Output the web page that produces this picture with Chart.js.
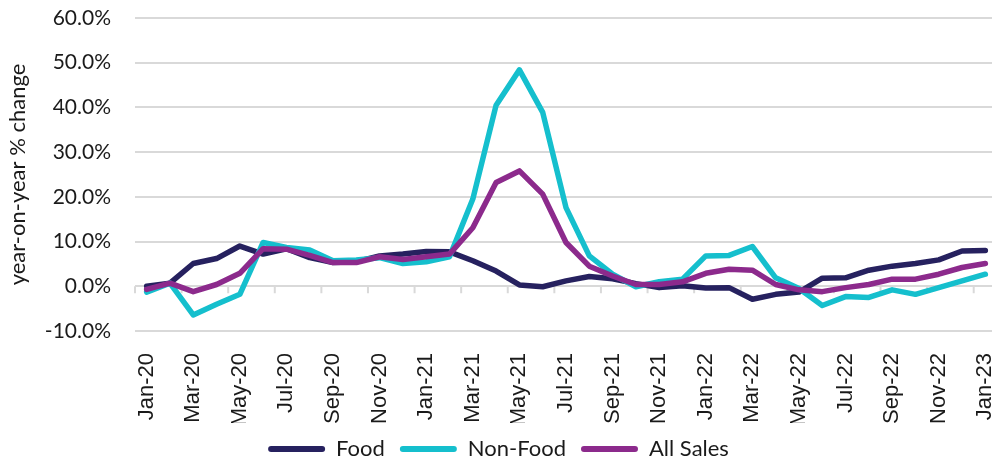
<!DOCTYPE html>
<html>
<head>
<meta charset="utf-8">
<script src="https://cdn.jsdelivr.net/npm/chart.js@4"></script>
<style>
    html, body { margin: 0; padding: 0; background: #fff; overflow: hidden; }
    #wrap { width: 1000px; height: 470px; }
</style>
</head>
<body>
<div id="wrap"><canvas id="salesChart"></canvas></div>
<script>
// Monthly categories (Jan-20 .. Jan-23)
const months = [
    'Jan-20', 'Feb-20', 'Mar-20', 'Apr-20', 'May-20', 'Jun-20', 'Jul-20', 'Aug-20', 'Sep-20', 'Oct-20', 'Nov-20', 'Dec-20',
    'Jan-21', 'Feb-21', 'Mar-21', 'Apr-21', 'May-21', 'Jun-21', 'Jul-21', 'Aug-21', 'Sep-21', 'Oct-21', 'Nov-21', 'Dec-21',
    'Jan-22', 'Feb-22', 'Mar-22', 'Apr-22', 'May-22', 'Jun-22', 'Jul-22', 'Aug-22', 'Sep-22', 'Oct-22', 'Nov-22', 'Dec-22',
    'Jan-23'
];

// year-on-year % change
const food = [
    0.0, 0.7, 5.1, 6.2, 9.0, 7.2, 8.4, 6.4, 5.3, 5.5, 6.8, 7.2,
    7.8, 7.7, 5.7, 3.4, 0.3, -0.1, 1.2, 2.2, 1.7, 0.6, -0.3, 0.1,
    -0.4, -0.3, -2.9, -1.8, -1.3, 1.8, 1.9, 3.6, 4.5, 5.1, 5.9, 7.9,
    8.0
];
const nonFood = [
    -1.3, 0.7, -6.4, -4.0, -1.8, 9.8, 8.7, 8.1, 5.7, 5.9, 6.4, 5.1,
    5.5, 6.6, 19.5, 40.5, 48.4, 38.9, 17.6, 6.8, 2.7, -0.1, 1.0, 1.6,
    6.8, 6.9, 8.9, 1.9, -0.5, -4.3, -2.3, -2.5, -0.8, -1.8, -0.3, 1.2,
    2.7
];
const allSales = [
    -0.7, 0.7, -1.2, 0.4, 2.9, 8.4, 8.3, 6.9, 5.3, 5.3, 6.6, 6.0,
    6.6, 7.2, 13.1, 23.2, 25.8, 20.6, 9.8, 4.5, 2.3, 0.4, 0.4, 1.0,
    2.9, 3.8, 3.6, 0.4, -0.8, -1.2, -0.3, 0.4, 1.6, 1.6, 2.7, 4.2,
    5.1
];

// y axis ticks
const yMin = -10;
const yMax = 60;
const yStep = 10;

// Small tick marks on the 0% line, between every second category
const zeroTicks = {
    id: 'zeroTicks',
    afterDatasetsDraw(chart) {
        const x = chart.scales.x;
        const y = chart.scales.y;
        const ctx = chart.ctx;
        const y0 = y.getPixelForValue(0);
        const half = (x.getPixelForValue(1) - x.getPixelForValue(0)) / 2;
        ctx.save();
        ctx.globalCompositeOperation = 'destination-over';
        ctx.strokeStyle = '#d9d9d9';
        ctx.lineWidth = 2;
        ctx.beginPath();
        for (let i = 0; i <= months.length; i += 2) {
            const px = x.getPixelForValue(i) - half;
            ctx.moveTo(px, y0);
            ctx.lineTo(px, y0 + 7);
        }
        ctx.stroke();
        ctx.restore();
    }
};

function lineSet(label, data, color, order) {
    return {
        label: label,
        data: data,
        borderColor: color,
        backgroundColor: color,
        borderWidth: 5.5,
        pointRadius: 0,
        tension: 0,
        borderJoinStyle: 'round',
        borderCapStyle: 'round',
        order: order
    };
}

new Chart(document.getElementById('salesChart'), {
    type: 'line',
    data: {
        labels: months,
        datasets: [
            lineSet('Food', food, '#26215f', 2),
            lineSet('Non-Food', nonFood, '#15bfcd', 1),
            lineSet('All Sales', allSales, '#8c2a8c', 0)
        ]
    },
    plugins: [zeroTicks],
    options: {
        responsive: true,
        maintainAspectRatio: false,
        animation: false,
        layout: { padding: { top: 18, right: 3, bottom: 0, left: 0 } },
        plugins: {
            tooltip: { enabled: false },
            legend: {
                position: 'bottom',
                labels: {
                    boxWidth: 57,
                    boxHeight: 6,
                    padding: 15,
                    useBorderRadius: true,
                    borderRadius: 3,
                    color: '#1a1a1a',
                    font: { family: 'Lato', size: 22 },
                    sort: (a, b) => a.datasetIndex - b.datasetIndex,
                    generateLabels(chart) {
                        const items = Chart.defaults.plugins.legend.labels.generateLabels(chart);
                        items.forEach(item => { item.lineWidth = 0; });
                        return items;
                    }
                }
            }
        },
        scales: {
            x: {
                offset: true,
                grid: { display: false },
                border: { display: false },
                afterFit(scale) {
                    scale.height = 92;
                    scale.paddingLeft = 0;
                    scale.paddingRight = 0;
                },
                ticks: {
                    autoSkip: false,
                    maxRotation: 90,
                    minRotation: 90,
                    padding: 14,
                    color: '#1a1a1a',
                    font: { family: 'Liberation Sans', size: 22 },
                    callback: function(value, index) {
                        return index % 2 === 0 ? months[index] : '';
                    }
                }
            },
            y: {
                min: yMin,
                max: yMax,
                afterFit(scale) {
                    scale.width = 135;
                    scale.paddingTop = 0;
                    scale.paddingBottom = 0;
                },
                grid: { color: '#d9d9d9', lineWidth: 2, drawTicks: false },
                border: { display: false },
                title: {
                    display: true,
                    text: 'year-on-year % change',
                    color: '#1a1a1a',
                    font: { family: 'Lato', size: 22 },
                    padding: { top: 5, bottom: 4 }
                },
                ticks: {
                    stepSize: yStep,
                    padding: 24,
                    color: '#1a1a1a',
                    font: { family: 'Lato', size: 21 },
                    callback: function(value) {
                        return value.toFixed(1) + '%';
                    }
                }
            }
        }
    }
});
</script>
</body>
</html>
